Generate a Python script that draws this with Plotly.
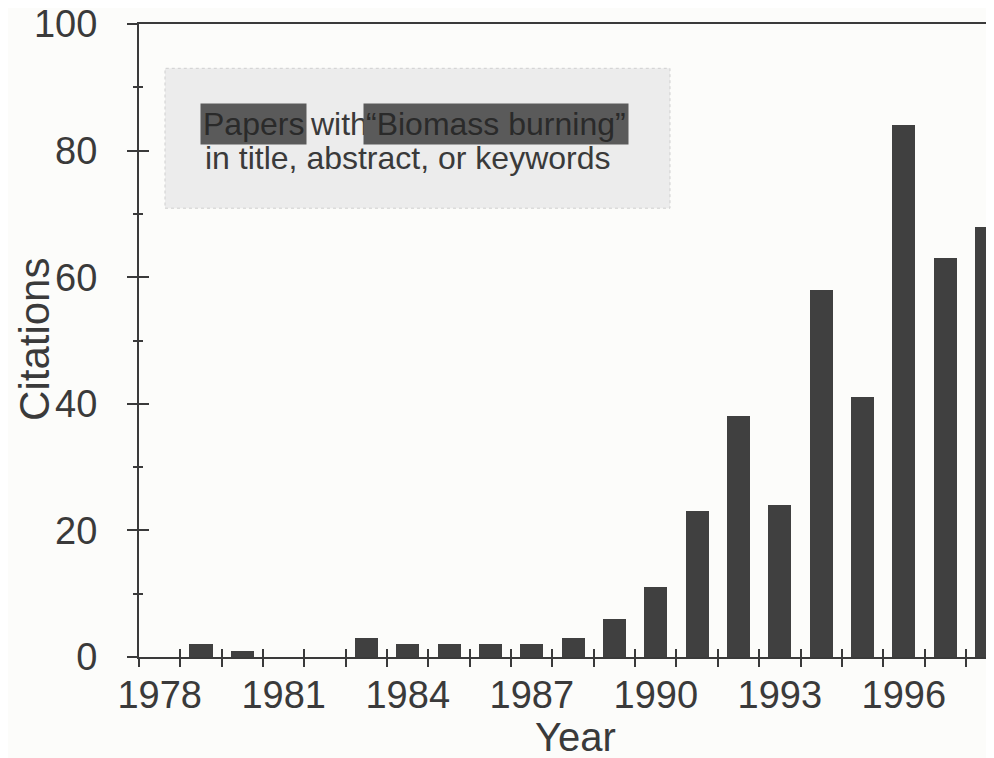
import plotly.graph_objects as go

# data
years = list(range(1978, 1999))
citations = [0, 2, 1, 0, 0, 3, 2, 2, 2, 2, 3, 6, 11, 23, 38, 24, 58, 41, 84, 63, 68]
year_ticks = [1978, 1981, 1984, 1987, 1990, 1993, 1996]
citation_ticks = [0, 20, 40, 60, 80, 100]

INK = "#3a3a3a"
PAPER = "#fcfcfa"
FONT = "Liberation Sans, Arial, sans-serif"

x_range = [1977.5, 1998.18]
y_range = [0, 100]

fig = go.Figure()

fig.add_trace(
    go.Bar(
        x=years,
        y=citations,
        width=0.56,
        marker=dict(color="#404040", line=dict(width=0)),
        showlegend=False,
        hoverinfo="x+y",
    )
)
# empty trace so the overlay axes (inside ticks) get drawn
fig.add_trace(go.Scatter(x=[], y=[], xaxis="x2", yaxis="y2", showlegend=False))

# the page puts the figure ~8px in from the top-left corner
fig.update_layout(
    width=994,
    height=758,
    margin=dict(l=131, r=8, t=16, b=109),
    paper_bgcolor=PAPER,
    plot_bgcolor=PAPER,
    font=dict(family=FONT, color=INK),
    bargap=0,
    xaxis=dict(
        range=x_range,
        automargin=False,
        tickmode="array",
        tickvals=year_ticks,
        ticks="",
        tickfont=dict(size=38, color=INK),
        ticklabelstandoff=3,
        showline=True,
        linecolor=INK,
        linewidth=2,
        mirror=True,
        showgrid=False,
        zeroline=False,
        minor=dict(
            tickmode="linear",
            tick0=1977.5,
            dtick=1,
            ticks="outside",
            ticklen=8,
            tickwidth=1.5,
            tickcolor=INK,
            showgrid=False,
        ),
    ),
    yaxis=dict(
        range=y_range,
        automargin=False,
        tickmode="array",
        tickvals=citation_ticks,
        ticks="outside",
        ticklen=10,
        tickwidth=1.5,
        tickcolor=INK,
        tickfont=dict(size=38, color=INK),
        ticklabelstandoff=22,
        ticklabeloverflow="allow",
        showline=True,
        linecolor=INK,
        linewidth=2,
        showgrid=False,
        zeroline=False,
        minor=dict(
            tickmode="linear",
            tick0=0,
            dtick=10,
            ticks="outside",
            ticklen=4,
            tickwidth=1.5,
            tickcolor=INK,
            showgrid=False,
        ),
    ),
    xaxis2=dict(
        range=x_range,
        automargin=False,
        overlaying="x",
        anchor="y",
        side="bottom",
        tickmode="linear",
        tick0=1977.5,
        dtick=1,
        ticks="inside",
        ticklen=8,
        tickwidth=1.5,
        tickcolor=INK,
        showticklabels=False,
        showline=False,
        showgrid=False,
        zeroline=False,
    ),
    yaxis2=dict(
        range=y_range,
        automargin=False,
        overlaying="y",
        anchor="x",
        side="left",
        tickmode="linear",
        tick0=0,
        dtick=20,
        ticks="inside",
        ticklen=10,
        tickwidth=1.5,
        tickcolor=INK,
        showticklabels=False,
        showline=False,
        showgrid=False,
        zeroline=False,
        minor=dict(tickmode="linear", tick0=0, dtick=10, ticks="inside", ticklen=4, tickcolor=INK),
    ),
)

# axis titles
fig.add_annotation(
    text="Citations", xref="paper", yref="paper", x=-0.122, y=0.502,
    textangle=-90, showarrow=False, font=dict(size=42, color=INK),
    xanchor="center", yanchor="middle",
)
fig.add_annotation(
    text="Year", xref="paper", yref="paper", x=0.51, y=-0.127,
    showarrow=False, font=dict(size=40, color=INK),
    xanchor="center", yanchor="middle",
)

# legend-like text box
fig.add_shape(
    type="rect", xref="paper", yref="paper",
    x0=0.0304, x1=0.621, y0=0.709, y1=0.930,
    fillcolor="#ececec", line=dict(color="#cfcfcf", width=1, dash="dot"),
    layer="below",
)
box_font = dict(size=32, color=INK)
mark_font = dict(size=32, color="#2a2a2a")
fig.add_annotation(
    text="Papers", xref="paper", yref="paper", x=0.0715, y=0.842,
    xanchor="left", yanchor="middle", showarrow=False,
    font=mark_font, bgcolor="#5a5a5a", borderpad=2,
)
fig.add_annotation(
    text="with", xref="paper", yref="paper", x=0.198, y=0.842,
    xanchor="left", yanchor="middle", showarrow=False, font=box_font,
)
fig.add_annotation(
    text="\u201cBiomass burning\u201d", xref="paper", yref="paper", x=0.262, y=0.842,
    xanchor="left", yanchor="middle", showarrow=False,
    font=mark_font, bgcolor="#5a5a5a", borderpad=2,
)
fig.add_annotation(
    text="in title, abstract, or keywords", xref="paper", yref="paper",
    x=0.0749, y=0.788, xanchor="left", yanchor="middle", showarrow=False,
    font=box_font,
)

fig.write_html("out.html")
